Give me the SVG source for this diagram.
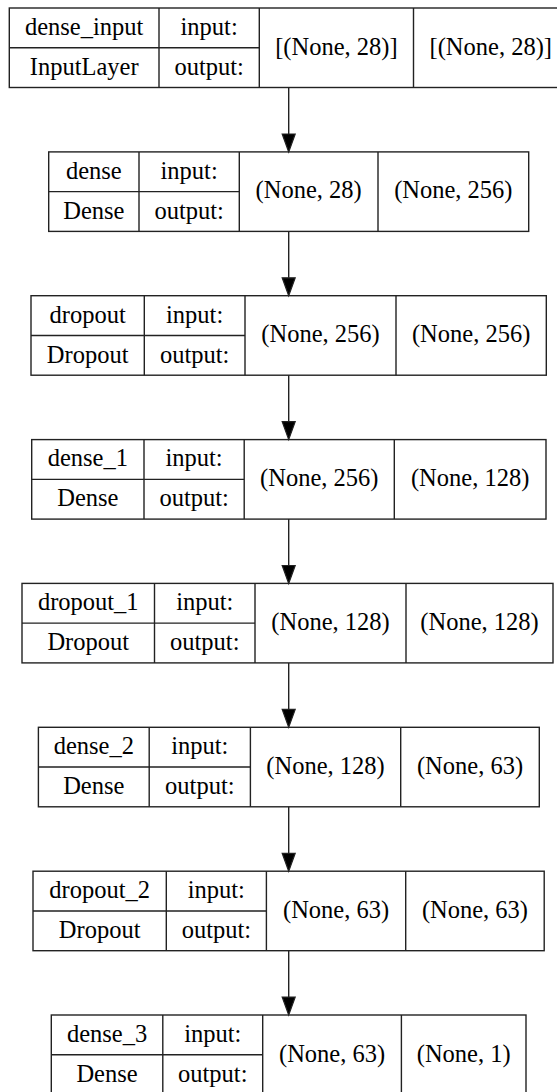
<svg xmlns="http://www.w3.org/2000/svg" width="557" height="1092" viewBox="0 0 557 1092">
<style>
.bx{fill:none;stroke:#222;stroke-width:1.4}
.ln{fill:none;stroke:#222;stroke-width:1.4}
.ah{fill:#000;stroke:#222;stroke-width:1.2}
.t{font-family:'Liberation Serif', 'Noto Serif', 'DejaVu Serif', serif;font-size:24.5px;fill:#000;text-anchor:middle}
</style>
<rect width="557" height="1092" fill="#fff"/>
<g id="connectors">
<line class="ln" x1="288.7" y1="87.5" x2="288.7" y2="134"/><polygon class="ah" points="282.2,134 295.2,134 288.7,151.9"/>
<line class="ln" x1="288.7" y1="231.4" x2="288.7" y2="277.8"/><polygon class="ah" points="282.2,277.8 295.2,277.8 288.7,295.7"/>
<line class="ln" x1="288.7" y1="375.2" x2="288.7" y2="421.7"/><polygon class="ah" points="282.2,421.7 295.2,421.7 288.7,439.6"/>
<line class="ln" x1="288.7" y1="519.1" x2="288.7" y2="565.5"/><polygon class="ah" points="282.2,565.5 295.2,565.5 288.7,583.4"/>
<line class="ln" x1="288.7" y1="662.9" x2="288.7" y2="709.4"/><polygon class="ah" points="282.2,709.4 295.2,709.4 288.7,727.3"/>
<line class="ln" x1="288.7" y1="806.8" x2="288.7" y2="853.3"/><polygon class="ah" points="282.2,853.3 295.2,853.3 288.7,871.2"/>
<line class="ln" x1="288.7" y1="950.7" x2="288.7" y2="997.1"/><polygon class="ah" points="282.2,997.1 295.2,997.1 288.7,1015"/>
</g>
<g id="dense_input" class="t" font-family="Liberation Serif, serif">
<rect class="bx" x="9.3" y="8" width="558.7" height="79.5"/>
<path class="ln" d="M159,8V87.5M259.3,8V87.5M413.5,8V87.5M9.3,47.75H259.3"/>
<text x="84.15" y="34.8">dense_input</text><text x="84.15" y="74.8">InputLayer</text>
<text x="209.15" y="34.8">input:</text><text x="209.15" y="74.8">output:</text>
<text x="336.4" y="54.5">[(None, 28)]</text><text x="490.75" y="54.5">[(None, 28)]</text>
</g>
<g id="dense" class="t" font-family="Liberation Serif, serif">
<rect class="bx" x="48.7" y="151.9" width="480" height="79.5"/>
<path class="ln" d="M139,151.9V231.4M239.3,151.9V231.4M378,151.9V231.4M48.7,191.65H239.3"/>
<text x="93.85" y="178.7">dense</text><text x="93.85" y="218.7">Dense</text>
<text x="189.15" y="178.7">input:</text><text x="189.15" y="218.7">output:</text>
<text x="308.65" y="198.4">(None, 28)</text><text x="453.35" y="198.4">(None, 256)</text>
</g>
<g id="dropout" class="t" font-family="Liberation Serif, serif">
<rect class="bx" x="31" y="295.7" width="515.3" height="79.5"/>
<path class="ln" d="M144.3,295.7V375.2M245,295.7V375.2M396,295.7V375.2M31,335.45H245"/>
<text x="87.65" y="322.5">dropout</text><text x="87.65" y="362.5">Dropout</text>
<text x="194.65" y="322.5">input:</text><text x="194.65" y="362.5">output:</text>
<text x="320.5" y="342.2">(None, 256)</text><text x="471.15" y="342.2">(None, 256)</text>
</g>
<g id="dense_1" class="t" font-family="Liberation Serif, serif">
<rect class="bx" x="31.7" y="439.6" width="514.3" height="79.5"/>
<path class="ln" d="M144,439.6V519.1M244.2,439.6V519.1M394.3,439.6V519.1M31.7,479.35H244.2"/>
<text x="87.85" y="466.4">dense_1</text><text x="87.85" y="506.4">Dense</text>
<text x="194.1" y="466.4">input:</text><text x="194.1" y="506.4">output:</text>
<text x="319.25" y="486.1">(None, 256)</text><text x="470.15" y="486.1">(None, 128)</text>
</g>
<g id="dropout_1" class="t" font-family="Liberation Serif, serif">
<rect class="bx" x="22" y="583.4" width="531" height="79.5"/>
<path class="ln" d="M154.5,583.4V662.9M255,583.4V662.9M406,583.4V662.9M22,623.15H255"/>
<text x="88.25" y="610.2">dropout_1</text><text x="88.25" y="650.2">Dropout</text>
<text x="204.75" y="610.2">input:</text><text x="204.75" y="650.2">output:</text>
<text x="330.5" y="629.9">(None, 128)</text><text x="479.5" y="629.9">(None, 128)</text>
</g>
<g id="dense_2" class="t" font-family="Liberation Serif, serif">
<rect class="bx" x="38.4" y="727.3" width="500.9" height="79.5"/>
<path class="ln" d="M149.2,727.3V806.8M250.4,727.3V806.8M400.7,727.3V806.8M38.4,767.05H250.4"/>
<text x="93.8" y="754.1">dense_2</text><text x="93.8" y="794.1">Dense</text>
<text x="199.8" y="754.1">input:</text><text x="199.8" y="794.1">output:</text>
<text x="325.55" y="773.8">(None, 128)</text><text x="470" y="773.8">(None, 63)</text>
</g>
<g id="dropout_2" class="t" font-family="Liberation Serif, serif">
<rect class="bx" x="33" y="871.2" width="511.2" height="79.5"/>
<path class="ln" d="M166.3,871.2V950.7M266.4,871.2V950.7M405.7,871.2V950.7M33,910.95H266.4"/>
<text x="99.65" y="898">dropout_2</text><text x="99.65" y="938">Dropout</text>
<text x="216.35" y="898">input:</text><text x="216.35" y="938">output:</text>
<text x="336.05" y="917.7">(None, 63)</text><text x="474.95" y="917.7">(None, 63)</text>
</g>
<g id="dense_3" class="t" font-family="Liberation Serif, serif">
<rect class="bx" x="51.3" y="1015" width="474.7" height="79.5"/>
<path class="ln" d="M162.8,1015V1094.5M262.7,1015V1094.5M401.4,1015V1094.5M51.3,1054.75H262.7"/>
<text x="107.05" y="1041.8">dense_3</text><text x="107.05" y="1081.8">Dense</text>
<text x="212.75" y="1041.8">input:</text><text x="212.75" y="1081.8">output:</text>
<text x="332.05" y="1061.5">(None, 63)</text><text x="463.7" y="1061.5">(None, 1)</text>
</g>
</svg>
